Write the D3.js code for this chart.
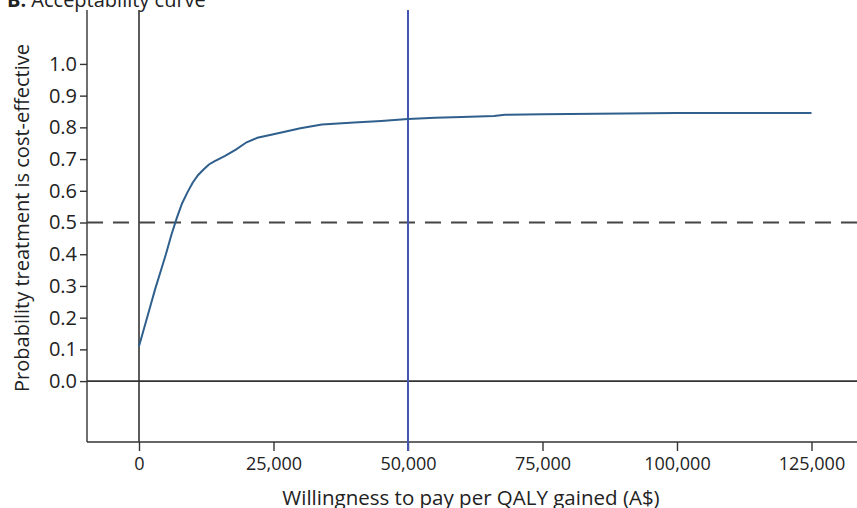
<!DOCTYPE html>
<html>
<head>
<meta charset="utf-8">
<script src="https://cdn.jsdelivr.net/npm/d3@7"></script>
<style>
  body { margin: 0; background: #fff; }
  svg { display: block; font-family: "Open Sans", "Noto Sans", sans-serif; }
  .axis text { font-family: "Open Sans", "Noto Sans", sans-serif; font-size: 18px; fill: #222; }
  .axis--y text { font-size: 20px; }
  .axis path, .axis line { stroke: #333; stroke-width: 1.4; }
</style>
</head>
<body>
<div id="chart"></div>
<script>
// Data
var wtp = [0, 1000, 2000, 3000, 4000, 5000, 6000, 7000, 8000, 9000, 10000, 11000, 12000,
           13000, 14000, 16000, 18000, 20000, 22000, 25000, 30000, 34000, 40000, 45000,
           50000, 55000, 60000, 66000, 68000, 75000, 85000, 100000, 125000];
var prob = [0.11, 0.17, 0.23, 0.29, 0.345, 0.40, 0.46, 0.513, 0.56, 0.595, 0.626, 0.65, 0.667,
            0.683, 0.693, 0.71, 0.73, 0.753, 0.767, 0.778, 0.797, 0.809, 0.815, 0.82,
            0.826, 0.83, 0.833, 0.836, 0.840, 0.841, 0.843, 0.845, 0.845];
var yTicks = [0, 0.1, 0.2, 0.3, 0.4, 0.5, 0.6, 0.7, 0.8, 0.9, 1.0];
var xTicks = [0, 25000, 50000, 75000, 100000, 125000];
var threshold = 50000;
var halfLine = 0.5;

var W = 857, H = 508;
var plotL = 87, plotR = 857, plotT = 10, plotB = 442;

var svg = d3.select('#chart').append('svg')
  .attr('width', W)
  .attr('height', H);

var x = d3.scaleLinear().domain([-9665, 133460]).range([plotL, plotR]),
    y = d3.scaleLinear().domain([-0.192, 1.170]).range([plotB, plotT]);

// title (cut off at the top in the original)
svg.append('text')
  .attr('x', 7).attr('y', 7)
  .style('font-size', '20px').style('fill', '#222')
  .html('<tspan font-weight="bold">B:</tspan> Acceptability curve');

// axes
var xAxis = d3.axisBottom(x).tickValues(xTicks).tickSize(9).tickPadding(6)
  .tickFormat(d3.format(','));
var yAxis = d3.axisLeft(y).tickValues(yTicks).tickSize(7).tickPadding(3)
  .tickFormat(d3.format('.1f'));

svg.append('g')
  .attr('class', 'axis axis--x')
  .attr('transform', 'translate(0,' + plotB + ')')
  .call(xAxis)
  .call(function(g) { g.select('.domain').attr('d', 'M' + plotL + ',0H' + plotR); });

svg.append('g')
  .attr('class', 'axis axis--y')
  .attr('transform', 'translate(' + plotL + ',0)')
  .call(yAxis)
  .call(function(g) { g.select('.domain').attr('d', 'M0,' + plotT + 'V' + plotB); });

// reference lines
svg.append('line')
  .attr('x1', plotL).attr('x2', plotR)
  .attr('y1', y(0)).attr('y2', y(0))
  .style('stroke', '#333').style('stroke-width', 1.6);

svg.append('line')
  .attr('x1', x(0)).attr('x2', x(0))
  .attr('y1', plotT).attr('y2', plotB)
  .style('stroke', '#333').style('stroke-width', 1.6);

svg.append('line')
  .attr('x1', plotL).attr('x2', plotR)
  .attr('y1', y(halfLine)).attr('y2', y(halfLine))
  .style('stroke', '#444').style('stroke-width', 2)
  .style('stroke-dasharray', '16,10');

svg.append('line')
  .attr('x1', x(threshold)).attr('x2', x(threshold))
  .attr('y1', plotT).attr('y2', plotB + 9)
  .style('stroke', '#4256b3').style('stroke-width', 2);

// acceptability curve
var line = d3.line()
  .x(function(d) { return x(d[0]); })
  .y(function(d) { return y(d[1]); });

svg.append('path')
  .datum(d3.zip(wtp, prob))
  .attr('d', line)
  .style('fill', 'none')
  .style('stroke', '#2f5f8c')
  .style('stroke-width', 2);

// axis titles
svg.append('text')
  .attr('transform', 'translate(29,' + 218 + ') rotate(-90)')
  .attr('text-anchor', 'middle')
  .style('font-size', '20px').style('fill', '#222')
  .text('Probability treatment is cost-effective');

svg.append('text')
  .attr('x', 471).attr('y', 505)
  .attr('text-anchor', 'middle')
  .style('font-size', '20.5px').style('fill', '#222')
  .text('Willingness to pay per QALY gained (A$)');
</script>
</body>
</html>
